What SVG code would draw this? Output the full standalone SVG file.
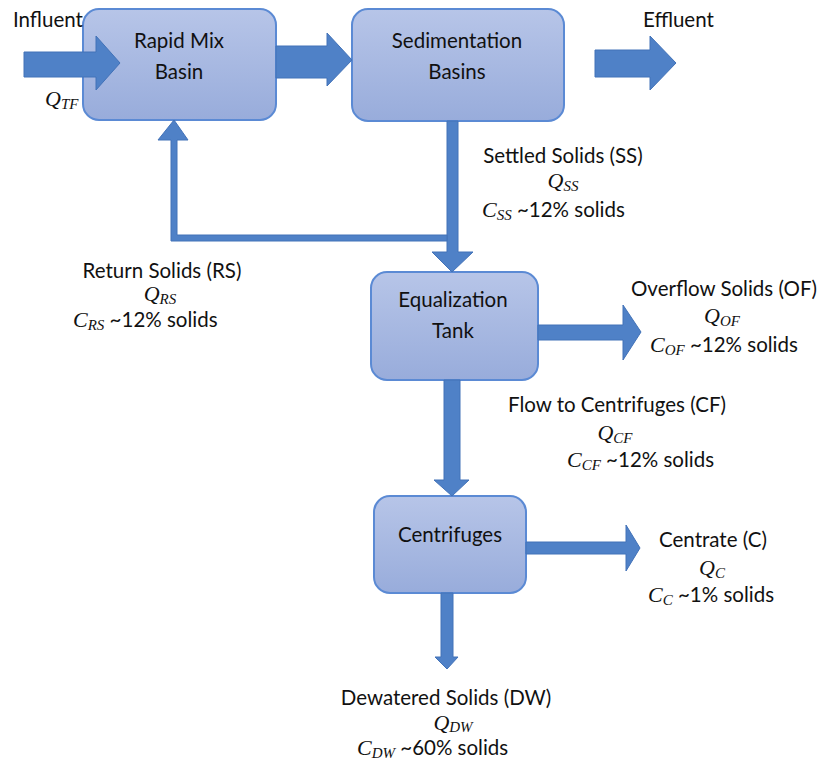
<svg xmlns="http://www.w3.org/2000/svg" width="823" height="761" viewBox="0 0 823 761">
<defs>
<linearGradient id="boxg" x1="0" y1="0" x2="0" y2="1">
<stop offset="0" stop-color="#b7c5e8"/>
<stop offset="1" stop-color="#98acdb"/>
</linearGradient>
<style>
.box{fill:url(#boxg);stroke:#5b8ad4;stroke-width:2}
.arr{fill:#4f81c7;stroke:#4272b8;stroke-width:1}
.t{font-family:Lato,"Open Sans","Liberation Sans",sans-serif;font-size:20.5px;fill:#111}
.m{font-family:"Liberation Serif","DejaVu Serif",serif;font-style:italic;font-size:22px;fill:#111}
.s{font-size:15px}
.c{text-anchor:middle}
</style>
</defs>
<g id="rapid-mix">
<rect class="box" x="83" y="9" width="193" height="111" rx="16"/>
<text class="t c" x="179" y="48">Rapid Mix</text>
<text class="t c" x="179" y="79">Basin</text>
</g>
<g id="sedimentation">
<rect class="box" x="352" y="9" width="212" height="112" rx="16"/>
<text class="t c" x="457" y="48">Sedimentation</text>
<text class="t c" x="457" y="79">Basins</text>
</g>
<g id="equalization">
<rect class="box" x="371" y="272" width="167" height="108" rx="16"/>
<text class="t c" x="453" y="307">Equalization</text>
<text class="t c" x="453" y="338">Tank</text>
</g>
<g id="centrifuges">
<rect class="box" x="374" y="496" width="152" height="97" rx="16"/>
<text class="t c" x="450" y="542">Centrifuges</text>
</g>
<g id="connectors">
<path class="arr" d="M24,52 H96 V36 L120,63 L96,90 V77 H24 Z"/>
<path class="arr" d="M276,46 H327 V33 L352,60 L327,86 V78 H276 Z"/>
<path class="arr" d="M595,50 H650 V36 L676,63 L650,90 V77 H595 Z"/>
<path class="arr" d="M447,121 H458 V252 H473 L452,272 L432,252 H447 Z"/>
<path class="arr" d="M447,235 V241 H171 V140 H158 L174,120 L188,140 H177 V235 Z"/>
<path class="arr" d="M538,325 H623 V305 L641,332 L623,360 V340 H538 Z"/>
<path class="arr" d="M444,380 H460 V480 H469 L452,496 L434,480 H444 Z"/>
<path class="arr" d="M526,542 H626 V525 L640,548 L626,571 V554 H526 Z"/>
<path class="arr" d="M441,593 H453 V657 H458 L447,669 L435,657 H441 Z"/>
</g>
<g id="labels">
<text class="t" x="13" y="27">Influent</text>
<text class="m" x="45" y="106">Q<tspan class="s" dy="3">TF</tspan></text>
<text class="t" x="643" y="27">Effluent</text>

<text class="t c" x="563" y="163">Settled Solids (SS)</text>
<text class="m c" x="563" y="188">Q<tspan class="s" dy="3">SS</tspan></text>
<text class="t" x="482" y="217"><tspan class="m">C</tspan><tspan class="m s" dy="3">SS</tspan><tspan dy="-3"> ~12% solids</tspan></text>

<text class="t c" x="162" y="278">Return Solids (RS)</text>
<text class="m c" x="160" y="301">Q<tspan class="s" dy="3">RS</tspan></text>
<text class="t" x="73" y="327"><tspan class="m">C</tspan><tspan class="m s" dy="3">RS</tspan><tspan dy="-3"> ~12% solids</tspan></text>

<text class="t c" x="724" y="296">Overflow Solids (OF)</text>
<text class="m c" x="722" y="323">Q<tspan class="s" dy="3">OF</tspan></text>
<text class="t" x="650" y="352"><tspan class="m">C</tspan><tspan class="m s" dy="3">OF</tspan><tspan dy="-3"> ~12% solids</tspan></text>

<text class="t c" x="617" y="412">Flow to Centrifuges (CF)</text>
<text class="m c" x="615" y="440">Q<tspan class="s" dy="3">CF</tspan></text>
<text class="t" x="567" y="467"><tspan class="m">C</tspan><tspan class="m s" dy="3">CF</tspan><tspan dy="-3"> ~12% solids</tspan></text>

<text class="t c" x="713" y="547">Centrate (C)</text>
<text class="m c" x="712" y="575">Q<tspan class="s" dy="3">C</tspan></text>
<text class="t" x="648" y="602"><tspan class="m">C</tspan><tspan class="m s" dy="3">C</tspan><tspan dy="-3"> ~1% solids</tspan></text>

<text class="t c" x="446" y="705">Dewatered Solids (DW)</text>
<text class="m c" x="453" y="730">Q<tspan class="s" dy="2">DW</tspan></text>
<text class="t" x="357" y="755"><tspan class="m">C</tspan><tspan class="m s" dy="3">DW</tspan><tspan dy="-3"> ~60% solids</tspan></text>
</g>
</svg>
